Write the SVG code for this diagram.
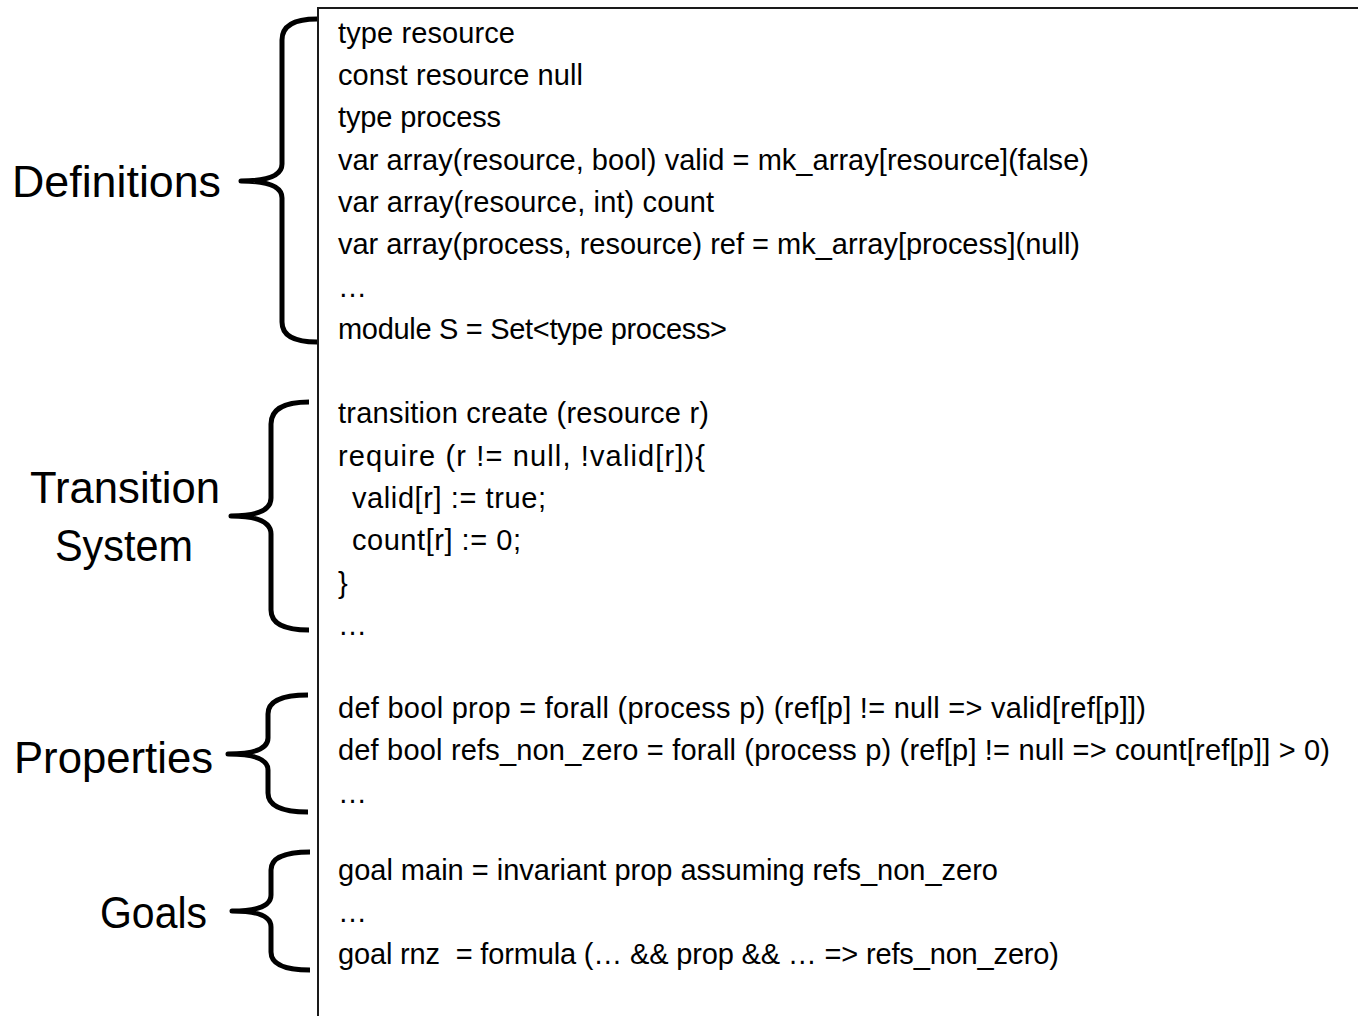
<svg xmlns="http://www.w3.org/2000/svg" width="1358" height="1016" viewBox="0 0 1358 1016">
  <style>
    .code { font-family: "Liberation Sans", Arial, sans-serif; font-size: 29px; fill: #000; }
    .label { font-family: "Liberation Sans", Arial, sans-serif; font-size: 45px; fill: #000; }
    .brace { fill: none; stroke: #000; stroke-width: 5; stroke-linecap: butt; stroke-linejoin: round; }
    .frame { fill: #fff; stroke: #1a1a1a; stroke-width: 2; }
  </style>
  <rect width="1358" height="1016" fill="#fff"/>

  <!-- listing frame (open to the right and bottom) -->
  <rect class="frame" x="318" y="8" width="1060" height="1030"/>

  <!-- section braces -->
  <g id="braces">
    <path class="brace" d="M317,19 Q282,19 282,40 L282,164 Q282,181 241,181 Q282,181 282,198 L282,322 Q282,342 317,342"/>
    <path class="brace" d="M309,402 Q271,402 271,424 L271,498 Q271,516 231,516 Q271,516 271,534 L271,610 Q271,630 309,630"/>
    <path class="brace" d="M308,695 Q268,695 268,714 L268,738 Q268,754 228,754 Q268,754 268,770 L268,793 Q268,812 308,812"/>
    <path class="brace" d="M310,852 Q271,852 271,870 L271,895 Q271,911 232,911 Q271,911 271,927 L271,952 Q271,970 310,970"/>
  </g>

  <g id="definitions">
    <text class="label" x="12" y="197" textLength="209" lengthAdjust="spacingAndGlyphs">Definitions</text>
    <text class="code" x="338" y="43" textLength="177">type resource</text>
    <text class="code" x="338" y="85" textLength="245">const resource null</text>
    <text class="code" x="338" y="127" textLength="163">type process</text>
    <text class="code" x="338" y="170" textLength="751">var array(resource, bool) valid = mk_array[resource](false)</text>
    <text class="code" x="338" y="212" textLength="376">var array(resource, int) count</text>
    <text class="code" x="338" y="254" textLength="742">var array(process, resource) ref = mk_array[process](null)</text>
    <text class="code" x="338" y="297">…</text>
    <text class="code" x="338" y="339" textLength="389">module S = Set&lt;type process&gt;</text>
  </g>

  <g id="transition-system">
    <text class="label" x="30" y="503" textLength="190" lengthAdjust="spacingAndGlyphs">Transition</text>
    <text class="label" x="55" y="561" textLength="138" lengthAdjust="spacingAndGlyphs">System</text>
    <text class="code" x="338" y="423" textLength="371">transition create (resource r)</text>
    <text class="code" x="338" y="466" textLength="367">require (r != null, !valid[r]){</text>
    <text class="code" x="352" y="508" textLength="194">valid[r] := true;</text>
    <text class="code" x="352" y="550" textLength="169">count[r] := 0;</text>
    <text class="code" x="338" y="593">}</text>
    <text class="code" x="338" y="635">…</text>
  </g>

  <g id="properties">
    <text class="label" x="14" y="773" textLength="199" lengthAdjust="spacingAndGlyphs">Properties</text>
    <text class="code" x="338" y="718" textLength="808">def bool prop = forall (process p) (ref[p] != null =&gt; valid[ref[p]])</text>
    <text class="code" x="338" y="760" textLength="992">def bool refs_non_zero = forall (process p) (ref[p] != null =&gt; count[ref[p]] &gt; 0)</text>
    <text class="code" x="338" y="803">…</text>
  </g>

  <g id="goals">
    <text class="label" x="100" y="928" textLength="107" lengthAdjust="spacingAndGlyphs">Goals</text>
    <text class="code" x="338" y="880" textLength="660">goal main = invariant prop assuming refs_non_zero</text>
    <text class="code" x="338" y="922">…</text>
    <text class="code" x="338" y="964" xml:space="preserve" textLength="721">goal rnz  = formula (… &amp;&amp; prop &amp;&amp; … =&gt; refs_non_zero)</text>
  </g>
</svg>
